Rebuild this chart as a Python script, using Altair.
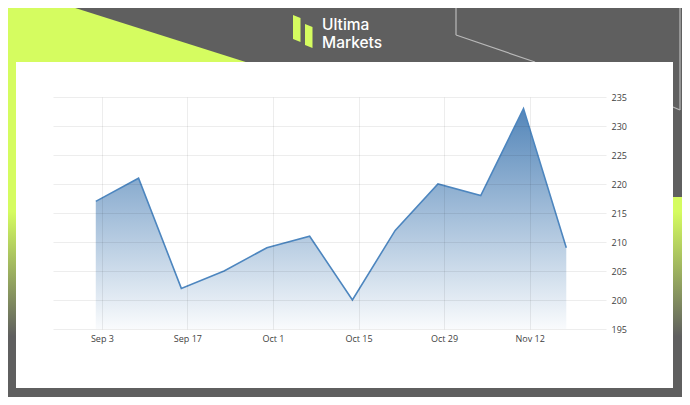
import altair as alt
import pandas as pd

# ---------------- data ----------------
dates = ["2024-09-02", "2024-09-09", "2024-09-16", "2024-09-23", "2024-09-30", "2024-10-07",
         "2024-10-14", "2024-10-21", "2024-10-28", "2024-11-04", "2024-11-11", "2024-11-18"]
values = [217, 221, 202, 205, 209, 211, 200, 212, 220, 218, 233, 209]
tick_labels = ["Sep 3", "Sep 17", "Oct 1", "Oct 15", "Oct 29", "Nov 12"]
y_ticks = [195, 200, 205, 210, 215, 220, 225, 230, 235]
year = 2024
logo_lines = ["Ultima", "Markets"]

df = pd.DataFrame({"date": dates, "value": values})

tick_dt = []
for lab in tick_labels:
    t = pd.to_datetime(f"{lab} {year}", format="%b %d %Y")
    tick_dt.append(alt.DateTime(year=t.year, month=t.month, date=t.day, utc=True))

# ---------------- geometry / style ----------------
W, H = 553, 232
PAD = {"left": 45, "top": 89, "right": 674 - 45 - W, "bottom": 389 - 89 - H}
OX, OY = 53, 97  # page position of the plot origin


def X(p):
    return p - OX


def Y(p):
    return p - OY


LIME = "#d5fc60"
GRAY = "#5f5f5f"
one = pd.DataFrame({"k": [0]})

# ---------------- decoration ----------------
bg_grad = alt.Chart(one).mark_rect(
    color=alt.Gradient(
        gradient="linear", x1=0, x2=0, y1=0, y2=1,
        stops=[alt.GradientStop(offset=0, color=LIME),
               alt.GradientStop(offset=0.07, color=LIME),
               alt.GradientStop(offset=0.67, color=GRAY),
               alt.GradientStop(offset=1, color=GRAY)])
).encode(x=alt.value(X(0)), x2=alt.value(X(690)), y=alt.value(Y(197)), y2=alt.value(Y(405)))

strip = alt.Chart(one).mark_rect(color=LIME).encode(
    x=alt.value(X(0)), x2=alt.value(X(17)), y=alt.value(Y(0)), y2=alt.value(Y(199)))

tri_path = f"M{X(0)},{Y(0)}L{X(50)},{Y(0)}L{X(252)},{Y(64)}L{X(0)},{Y(64)}Z"
tri = alt.Chart(one).mark_point(shape=tri_path, size=4, filled=True, opacity=1,
                                color=LIME, strokeWidth=0).encode(
    x=alt.value(0), y=alt.value(0))

icon_path = (f"M{X(293)},{Y(15)}L{X(300.5)},{Y(18)}L{X(300.5)},{Y(42)}L{X(293)},{Y(39)}Z"
             f"M{X(305)},{Y(24)}L{X(312.5)},{Y(27)}L{X(312.5)},{Y(48)}L{X(305)},{Y(45)}Z")
icon = alt.Chart(one).mark_point(shape=icon_path, size=4, filled=True, opacity=1,
                                 color=LIME, strokeWidth=0).encode(
    x=alt.value(0), y=alt.value(0))

segs = [((456, 0), (456, 35)), ((456, 35), (535, 62)),
        ((680, 0), (680, 110)), ((680, 110), (673, 107))]
rules = [alt.Chart(one).mark_rule(color="#b9b9b9", strokeWidth=1.2).encode(
    x=alt.value(X(a[0])), y=alt.value(Y(a[1])), x2=alt.value(X(b[0])), y2=alt.value(Y(b[1])))
    for a, b in segs]

logo_texts = [alt.Chart(one).mark_text(
    text=txt, font="Inter", fontSize=15.5, fontWeight=500, color="white",
    align="left", baseline="alphabetic").encode(x=alt.value(X(322)), y=alt.value(Y(bl)))
    for txt, bl in zip(logo_lines, [29.5, 47.5])]

panel = alt.Chart(one).mark_rect(color="white").encode(
    x=alt.value(X(16)), x2=alt.value(X(673)), y=alt.value(Y(62)), y2=alt.value(Y(388)))

# ---------------- chart ----------------
x_enc = alt.X("date:T", title=None,
              scale=alt.Scale(type="utc",
                              domain=[alt.DateTime(year=2024, month=8, date=26, utc=True),
                                      alt.DateTime(year=2024, month=11, date=24, hours=12, utc=True)]),
              axis=alt.Axis(values=tick_dt, labelExpr="utcFormat(datum.value, '%b %-d')",
                            domain=False, ticks=False, tickSize=0, labelPadding=5,
                            labelFont="Open Sans", labelFontSize=9, labelColor="#3f3f3f",
                            gridColor="rgba(0,0,0,0.07)", gridWidth=1, zindex=1))
y_enc = alt.Y("value:Q", title=None,
              scale=alt.Scale(domain=[195, 235], zero=False, nice=False),
              axis=alt.Axis(orient="right", values=y_ticks, domain=False, ticks=False, tickSize=0,
                            labelPadding=5, labelFont="Open Sans", labelFontSize=9,
                            labelColor="#3f3f3f", gridColor="rgba(0,0,0,0.07)", gridWidth=1,
                            zindex=1))

area = alt.Chart(df).mark_area(
    color=alt.Gradient(gradient="linear", x1=1, x2=1, y1=1, y2=0,
                       stops=[alt.GradientStop(offset=0, color="rgba(74,127,181,0.03)"),
                              alt.GradientStop(offset=1, color="rgba(74,127,181,0.95)")])
).encode(x=x_enc, y=y_enc, y2=alt.datum(195))

line = alt.Chart(df).mark_line(color="#4d86bf", strokeWidth=1.6).encode(x=x_enc, y=y_enc)

chart = alt.layer(bg_grad, strip, tri, icon, *rules, *logo_texts, panel, area, line).properties(
    width=W, height=H, padding=PAD,
    autosize=alt.AutoSizeParams(type="none"),
    background=GRAY,
).configure_view(strokeWidth=0)

chart.save("out.html", embed_options={"renderer": "svg", "actions": False})
